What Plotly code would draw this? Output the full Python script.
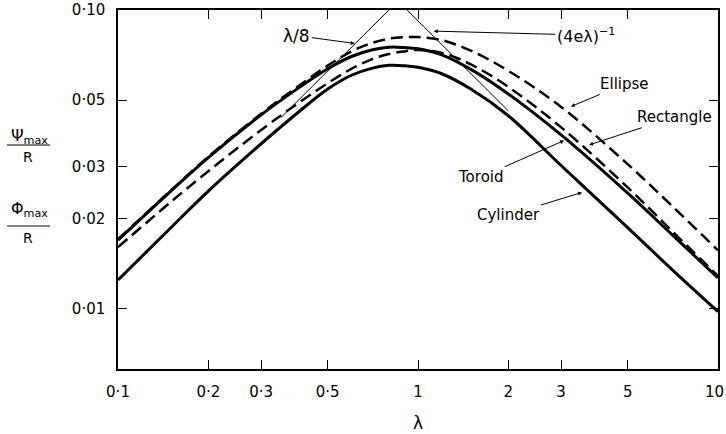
import math
import plotly.graph_objects as go

# ---- data ----
lam = [0.1, 0.15, 0.2, 0.3, 0.4, 0.5, 0.6, 0.7, 0.8, 0.9, 1.0, 1.2, 1.5, 2, 3, 5, 7, 10]
cylinder = [0.0125, 0.0187, 0.0248, 0.0357, 0.0456, 0.0544, 0.0605, 0.0638, 0.0653, 0.0651,
            0.0643, 0.0612, 0.0544, 0.0443, 0.0302, 0.0187, 0.0136, 0.0098]
toroid = [0.0170, 0.0248, 0.0321, 0.0446, 0.0549, 0.0636, 0.0699, 0.0735, 0.0751, 0.0749,
          0.0742, 0.0708, 0.0633, 0.0524, 0.0382, 0.0244, 0.0178, 0.0127]
ellipse = [0.0171, 0.0249, 0.0323, 0.0450, 0.0557, 0.0652, 0.0727, 0.0775, 0.0802, 0.0811,
           0.0812, 0.0793, 0.0731, 0.0626, 0.0474, 0.0305, 0.0222, 0.0157]
rectangle = [0.0161, 0.0228, 0.0289, 0.0397, 0.0489, 0.0569, 0.0636, 0.0684, 0.0713, 0.0727,
             0.0735, 0.0719, 0.0658, 0.0553, 0.0405, 0.0255, 0.0183, 0.0129]

# asymptotes (end points)
asym_small_lam = [0.35, 0.8]
asym_small_val = [0.04375, 0.1]
asym_large_lam = [0.92, 2.0]
asym_large_val = [0.1, 0.046]

x_ticks = [0.1, 0.2, 0.3, 0.5, 1, 2, 3, 5, 10]
x_ticktext = ["0·1", "0·2", "0·3", "0·5", "1", "2", "3", "5", "10"]
y_ticks = [0.01, 0.02, 0.03, 0.05, 0.1]
y_ticktext = ["0·01", "0·02", "0·03", "0·05", "0·10"]

FONT = "DejaVu Sans"

fig = go.Figure()

fig.add_trace(go.Scatter(x=asym_small_lam, y=asym_small_val, mode="lines",
                         line=dict(color="black", width=1), hoverinfo="skip"))
fig.add_trace(go.Scatter(x=asym_large_lam, y=asym_large_val, mode="lines",
                         line=dict(color="black", width=1), hoverinfo="skip"))

for vals, dash, w in [(ellipse, "12px,6px", 2.5), (rectangle, "12px,6px", 2.5),
                      (toroid, "solid", 3), (cylinder, "solid", 3)]:
    fig.add_trace(go.Scatter(x=lam, y=vals, mode="lines",
                             line=dict(color="black", width=w, dash=dash,
                                       shape="spline", smoothing=1.0)))

L = math.log10


def arrow(text, tip_lam, tip_val, ax, ay, size=15):
    fig.add_annotation(x=L(tip_lam), y=L(tip_val), xref="x", yref="y", text=text,
                       showarrow=True, ax=ax, ay=ay, arrowhead=2, arrowsize=0.8,
                       arrowwidth=1, arrowcolor="black", standoff=1,
                       font=dict(family=FONT, size=size, color="black"))


arrow("Ellipse", 3.21, 0.0474, 55, -23)
arrow("Rectangle", 3.69, 0.0353, 86, -28)
arrow("Toroid", 3.09, 0.0367, -84, 37)
arrow("Cylinder", 3.55, 0.0246, -75, 23)
arrow("λ/8", 0.62, 0.0772, -59, -8, size=17)
arrow("(4eλ)<sup>−1</sup>", 1.12, 0.085, 153, 4, size=16)


# positions below are relative to the plot frame (paper coordinates)
def ypaper(py):
    return (369 - py) / 359.0


def xpaper(px):
    return (px - 118) / 600.0


for num, py_num, py_line, py_den in [("Ψ<sub>max</sub>", 136, 145, 157),
                                     ("Φ<sub>max</sub>", 209, 226, 238)]:
    fig.add_annotation(x=xpaper(29), y=ypaper(py_num), xref="paper", yref="paper",
                       text=num, showarrow=False, xanchor="center", yanchor="middle",
                       font=dict(family=FONT, size=16, color="black"))
    fig.add_annotation(x=xpaper(28), y=ypaper(py_den), xref="paper", yref="paper",
                       text="R", showarrow=False, xanchor="center", yanchor="middle",
                       font=dict(family=FONT, size=14, color="black"))
    fig.add_shape(type="line", xref="paper", yref="paper",
                  x0=xpaper(7), x1=xpaper(50), y0=ypaper(py_line), y1=ypaper(py_line),
                  line=dict(color="black", width=1))

fig.add_annotation(x=0.5, y=ypaper(423), xref="paper", yref="paper", text="λ",
                   showarrow=False, xanchor="center", yanchor="middle",
                   font=dict(family=FONT, size=17, color="black"))

# last x tick label is placed as an annotation so it stays inside the window
fig.add_annotation(x=L(x_ticks[-1]), y=ypaper(392), xref="x", yref="paper",
                   text=x_ticktext[-1], showarrow=False, xanchor="center",
                   yanchor="middle", xshift=-4,
                   font=dict(family=FONT, size=15, color="black"))
x_ticktext_axis = x_ticktext[:-1] + [""]

axis_common = dict(type="log", ticks="inside", ticklen=9, tickwidth=1, tickcolor="black",
                   showline=True, linecolor="black", linewidth=1.5, mirror="ticks",
                   showgrid=False, zeroline=False, ticklabelstandoff=8, automargin=False,
                   ticklabeloverflow="allow",
                   tickfont=dict(family=FONT, size=15, color="black"))
fig.update_xaxes(range=[-1, 1], tickvals=x_ticks, ticktext=x_ticktext_axis, **axis_common)
fig.update_yaxes(range=[-2.2007, -1.0], tickvals=y_ticks, ticktext=y_ticktext, **axis_common)

fig.update_layout(width=726, height=434, showlegend=False,
                  margin=dict(l=118, r=8, t=10, b=65, autoexpand=False),
                  paper_bgcolor="white", plot_bgcolor="white",
                  font=dict(family=FONT, color="black"))

# remove the browser's default 8px page margin so the figure fills the window
fig.write_html("out.html", config={"displayModeBar": False},
               post_script="document.body.style.margin='0';document.body.style.overflow='hidden';")
